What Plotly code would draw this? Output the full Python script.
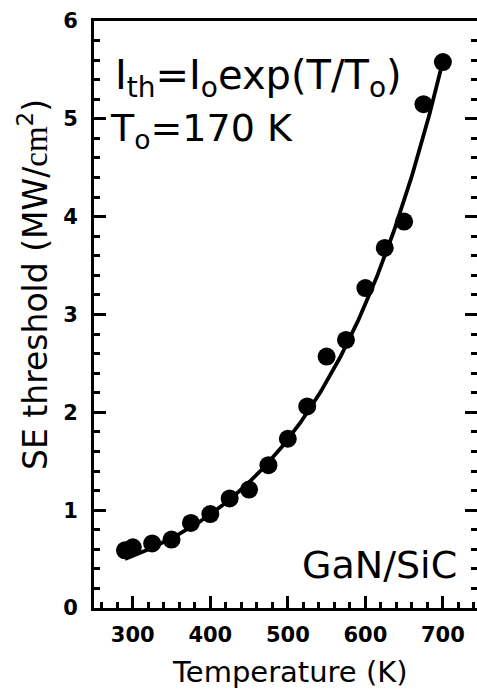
import numpy as np
import plotly.graph_objects as go

temperature_K = [290, 300, 325, 350, 375, 400, 425, 450, 475, 500,
                 525, 550, 575, 600, 625, 650, 675, 700]
threshold_MW_cm2 = [0.59, 0.62, 0.66, 0.70, 0.87, 0.96, 1.12, 1.21, 1.46, 1.73,
                    2.06, 2.57, 2.74, 3.27, 3.68, 3.95, 5.15, 5.58]

# Fit parameters of the drawn curve  I_th = I_o exp(T / T_o)
T0_fit = 170.0
I0_fit = 0.091
fit_T_start, fit_T_end = 290, 700

x_tick_vals = [300, 400, 500, 600, 700]
x_tick_text = ["300", "400", "500", "600", "700"]
y_tick_vals = [0, 1, 2, 3, 4, 5, 6]
y_tick_text = ["0", "1", "2", "3", "4", "5", "6"]

W, H = 477, 690
L, R, T, B = 94, 0, 21, 82
pw, ph = W - L - R, H - T - B


def px(xp):
    return (xp - L) / pw


def py(yp):
    return (H - B - yp) / ph


def bold_label(t):
    return "<span style=\"font-size:21px;font-weight:bold\">%s</span>" % t


fit_T = np.linspace(fit_T_start, fit_T_end, 200)
fit_I = I0_fit * np.exp(fit_T / T0_fit)

fig = go.Figure()
fig.add_trace(go.Scatter(x=fit_T, y=fit_I, mode="lines",
                         line=dict(color="black", width=3.8),
                         hoverinfo="skip", showlegend=False))
fig.add_trace(go.Scatter(x=temperature_K, y=threshold_MW_cm2, mode="markers",
                         marker=dict(color="black", size=18, line=dict(width=0)),
                         showlegend=False))

tickfont = dict(family="DejaVu Sans", size=21, color="black", weight="bold")

fig.update_xaxes(range=[250, 744], tickmode="array", tickvals=x_tick_vals,
                 ticktext=[bold_label(t) for t in x_tick_text],
                 ticks="inside", ticklen=12, tickwidth=2.5, tickcolor="black",
                 showline=True, linewidth=3, linecolor="black", mirror=True,
                 showgrid=False, zeroline=False, tickfont=tickfont,
                 ticklabelstandoff=6, automargin=False,
                 minor=dict(dtick=20, tick0=0, ticks="inside", ticklen=6,
                            tickwidth=2.5, tickcolor="black", showgrid=False))
fig.update_yaxes(range=[0, 6], tickmode="array", tickvals=y_tick_vals,
                 ticktext=[bold_label(t) for t in y_tick_text],
                 ticks="inside", ticklen=12, tickwidth=2.5, tickcolor="black",
                 showline=True, linewidth=3, linecolor="black", mirror="ticks",
                 showgrid=False, zeroline=False, tickfont=tickfont,
                 ticklabelstandoff=9, automargin=False,
                 minor=dict(dtick=0.2, tick0=0, ticks="inside", ticklen=6,
                            tickwidth=2.5, tickcolor="black", showgrid=False))

ann_font = dict(family="DejaVu Sans", color="black")
fig.add_annotation(xref="paper", yref="paper", x=px(113), y=py(78),
                   xanchor="left", yanchor="middle", showarrow=False,
                   text="I<sub>th</sub>=I<sub>o</sub>exp(T/T<sub>o</sub>)",
                   font=dict(size=40, **ann_font))
fig.add_annotation(xref="paper", yref="paper", x=px(108), y=py(130),
                   xanchor="left", yanchor="middle", showarrow=False,
                   text="T<sub>o</sub>=170 K",
                   font=dict(size=38, **ann_font))
fig.add_annotation(xref="paper", yref="paper", x=px(459), y=py(565),
                   xanchor="right", yanchor="middle", showarrow=False,
                   text="GaN/SiC", font=dict(size=38, **ann_font))
fig.add_annotation(xref="paper", yref="paper", x=px(290), y=py(672),
                   xanchor="center", yanchor="middle", showarrow=False,
                   text="Temperature (K)", font=dict(size=29, **ann_font))
fig.add_annotation(xref="paper", yref="paper", x=px(33), y=py(285),
                   xanchor="center", yanchor="middle", showarrow=False,
                   textangle=-90,
                   text="SE threshold (MW/<span style=\"font-family:'Liberation Serif'\">cm</span><sup>2</sup>)",
                   font=dict(size=33, **ann_font))

fig.update_layout(width=W, height=H, margin=dict(l=L, r=R, t=T, b=B),
                  paper_bgcolor="white", plot_bgcolor="white",
                  showlegend=False)

fig.write_html("out.html", config={"displayModeBar": False},
               post_script="document.body.style.margin='0';"
                           "document.body.style.overflow='hidden';")
